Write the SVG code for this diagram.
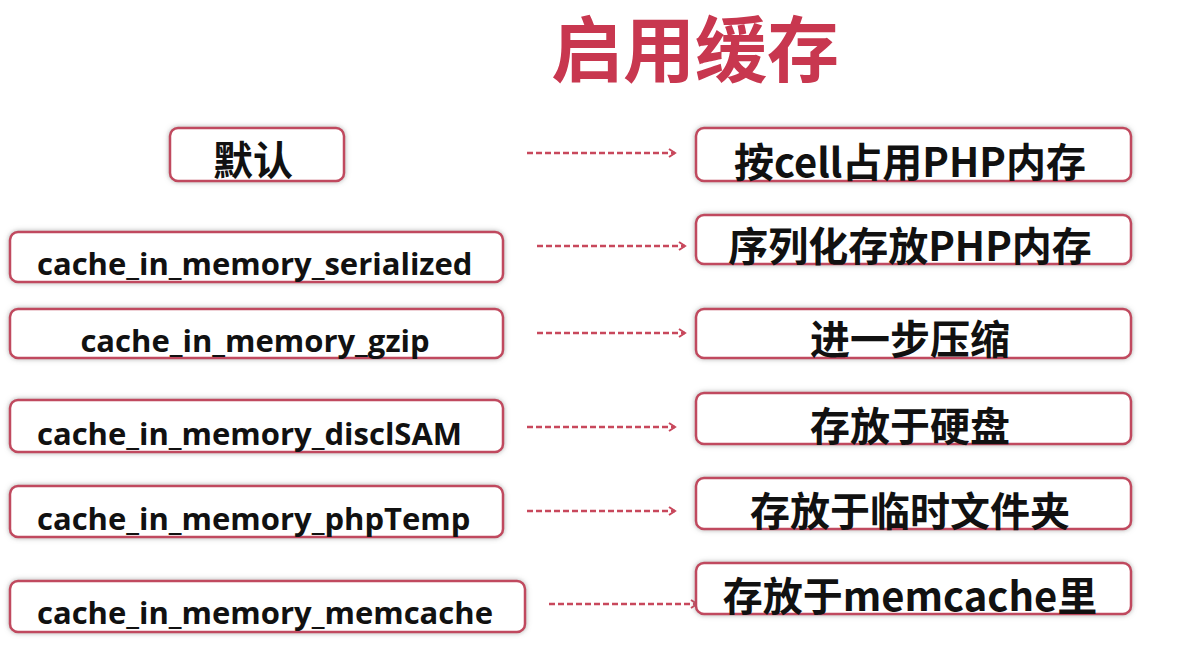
<svg xmlns="http://www.w3.org/2000/svg" width="1187" height="664" viewBox="0 0 1187 664">
<defs>
<style>
.box{fill:#fff;stroke:#c04a5e;stroke-width:2.5;filter:url(#sh)}
.lt{font-family:"Open Sans","Noto Sans CJK SC",sans-serif;font-weight:bold;font-size:31px;fill:#111}
.rt{font-family:"Noto Sans CJK SC","Open Sans",sans-serif;font-weight:bold;font-size:40px;fill:#111;text-anchor:middle}
.ar{stroke:#c8485c;stroke-width:2.5;stroke-dasharray:6 3;fill:none;marker-end:url(#ah)}
</style>
<filter id="sh" x="-5%" y="-20%" width="110%" height="140%">
<feDropShadow dx="0" dy="0" stdDeviation="2.5" flood-color="#777" flood-opacity="0.6"/>
</filter>
<marker id="ah" markerWidth="10" markerHeight="10" refX="8" refY="5" orient="auto" markerUnits="userSpaceOnUse">
<path d="M2,1 L8,5 L2,9" fill="none" stroke="#c8485c" stroke-width="2"/>
</marker>
</defs>
<rect width="1187" height="664" fill="#fff"/>
<text x="695" y="76" font-family="'Liberation Sans','Noto Sans CJK SC',sans-serif" font-weight="bold" font-size="72" fill="#c8374f" text-anchor="middle">启用缓存</text>

<g id="connectors">
<line class="ar" x1="527" y1="153" x2="675" y2="153"/>
<line class="ar" x1="537" y1="246" x2="685" y2="246"/>
<line class="ar" x1="537" y1="333" x2="685" y2="333"/>
<line class="ar" x1="527" y1="427" x2="675" y2="427"/>
<line class="ar" x1="527" y1="511" x2="675" y2="511"/>
<line class="ar" x1="549" y1="604" x2="697" y2="604"/>
</g>

<g id="l1"><rect class="box" x="170" y="128" width="174" height="53" rx="8"/><text x="253" y="175" font-family="'Noto Sans CJK SC',sans-serif" font-weight="bold" font-size="40" fill="#111" text-anchor="middle">默认</text></g>
<g id="l2"><rect class="box" x="10" y="232" width="493" height="50" rx="8"/><text class="lt" x="37" y="275">cache_in_memory_serialized</text></g>
<g id="l3"><rect class="box" x="10" y="309" width="493" height="49" rx="8"/><text class="lt" x="255" y="352" text-anchor="middle">cache_in_memory_gzip</text></g>
<g id="l4"><rect class="box" x="10" y="400" width="493" height="52" rx="8"/><text class="lt" x="37" y="445">cache_in_memory_disclSAM</text></g>
<g id="l5"><rect class="box" x="10" y="486" width="493" height="51" rx="8"/><text class="lt" x="37" y="530">cache_in_memory_phpTemp</text></g>
<g id="l6"><rect class="box" x="10" y="581" width="515" height="51" rx="8"/><text class="lt" x="37" y="624">cache_in_memory_memcache</text></g>

<g id="r1"><rect class="box" x="696" y="128" width="435" height="53" rx="8"/><text class="rt" x="910" y="177">按cell占用PHP内存</text></g>
<g id="r2"><rect class="box" x="696" y="215" width="435" height="49" rx="8"/><text class="rt" x="910" y="261">序列化存放PHP内存</text></g>
<g id="r3"><rect class="box" x="696" y="309" width="435" height="49" rx="8"/><text class="rt" x="910" y="354">进一步压缩</text></g>
<g id="r4"><rect class="box" x="696" y="393" width="435" height="51" rx="8"/><text class="rt" x="910" y="441">存放于硬盘</text></g>
<g id="r5"><rect class="box" x="696" y="478" width="435" height="51" rx="8"/><text class="rt" x="910" y="526">存放于临时文件夹</text></g>
<g id="r6"><rect class="box" x="696" y="563" width="435" height="51" rx="8"/><text class="rt" x="910" y="611">存放于memcache里</text></g>
</svg>
